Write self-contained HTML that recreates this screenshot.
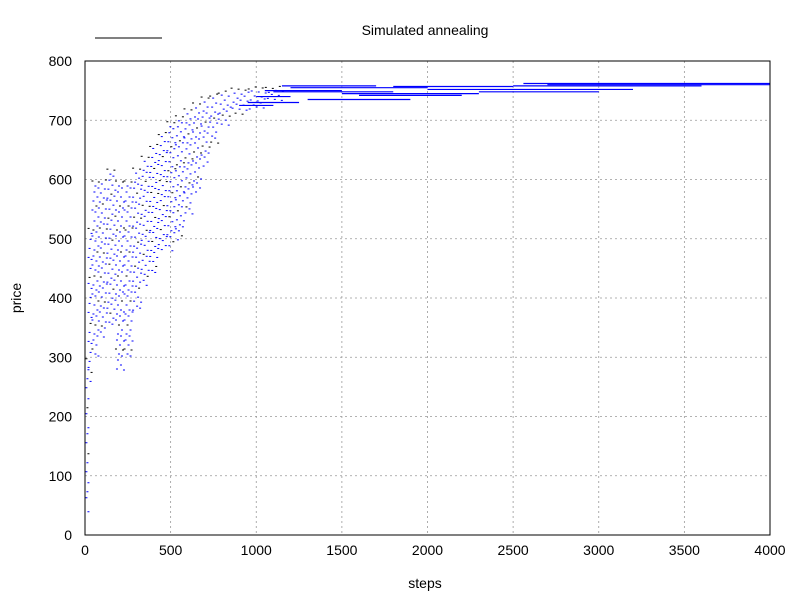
<!DOCTYPE html>
<html><head><meta charset="utf-8"><style>
body{margin:0;background:#fff;}
svg{display:block;font-family:"Liberation Sans",sans-serif;}
</style></head><body>
<svg id="chart" width="800" height="600">
<rect width="800" height="600" fill="#fff"/>
<text x="425" y="35" font-size="14" text-anchor="middle">Simulated annealing</text>
<line x1="95" y1="38" x2="162" y2="38" stroke="#000"/>
<g id="grid"></g>
<g id="marks"></g>
<g id="segs"></g>
<rect x="85" y="61" width="685" height="474" fill="none" stroke="#000"/>
<g id="axes"></g>
<text x="425" y="588" font-size="14" text-anchor="middle">steps</text>
<text transform="translate(21,298) rotate(-90)" font-size="14" text-anchor="middle">price</text>
</svg>
<script>
const xTicks=[0,500,1000,1500,2000,2500,3000,3500,4000];
const yTicks=[0,100,200,300,400,500,600,700,800];
const binSteps=[5,25,50,100,150,200,250,300,350,400,450,500,550,600,650,700,750,800,900,1000,1100];
const binLow=[40,250,300,330,350,280,300,380,420,440,480,480,500,540,580,620,660,690,710,720,735];
const binHigh=[300,520,600,600,620,600,600,620,640,660,680,700,710,720,730,740,745,750,755,757,758];
const segStart=[1000,1050,1100,1200,1300,1500,1800,2000,2300,2500,2560,2700,1150,1600,900,950];
const segEnd=[1200,1500,1800,2000,1900,2300,2500,3200,3000,3600,4000,4000,1700,2200,1100,1250];
const segPrice=[740,750,748,755,735,745,757,752,748,758,762,760,758,742,725,730];
const NS="http://www.w3.org/2000/svg";
const X=v=>85+v*685/4000, Y=v=>535-v*474/800;
function el(t,a,p){const e=document.createElementNS(NS,t);for(const k in a)e.setAttribute(k,a[k]);document.getElementById(p).appendChild(e);return e;}
xTicks.forEach(t=>{
 if(t>0&&t<4000){const g=el('line',{x1:X(t),x2:X(t),y1:61,y2:535,stroke:'#999','stroke-dasharray':'2,3','stroke-width':0.8},'grid');
 
 }
 const tx=el('text',{x:X(t),y:555,'font-size':14,'text-anchor':'middle'},'axes');tx.textContent=t;
 
 
});
yTicks.forEach(t=>{
 if(t>0&&t<800){const g=el('line',{x1:85,x2:770,y1:Y(t),y2:Y(t),stroke:'#999','stroke-dasharray':'2,3','stroke-width':0.8},'grid');
 
 }
 const tx=el('text',{x:72,y:Y(t)+5,'font-size':14,'text-anchor':'end'},'axes');tx.textContent=t;
 
 
});
binSteps.forEach((s,i)=>{
 const next=i<binSteps.length-1?binSteps[i+1]:s+100;
 const prev=i>0?binSteps[i-1]:0;
 const x0=X((prev+s)/2), x1=X((s+next)/2);
 const y0=Y(binHigh[i]), y1=Y(binLow[i]);
 let k=0;
 for(let py=y0;py<=y1;py+=4){
  for(let px=x0+((k*3)%7);px<x1;px+=7){
   const m=el('rect',{x:px,y:py+((k+Math.round(px))%3),width:2,height:1,fill:(k%6==0)?'#000':'#00f'},'marks');
   
   
  }
  k++;
 }
});
segStart.forEach((s,i)=>{
 const l=el('line',{x1:X(s),x2:X(segEnd[i]),y1:Y(segPrice[i]),y2:Y(segPrice[i]),stroke:'#00f','stroke-width':1.2},'segs');
 
 
});
</script>
</body></html>
